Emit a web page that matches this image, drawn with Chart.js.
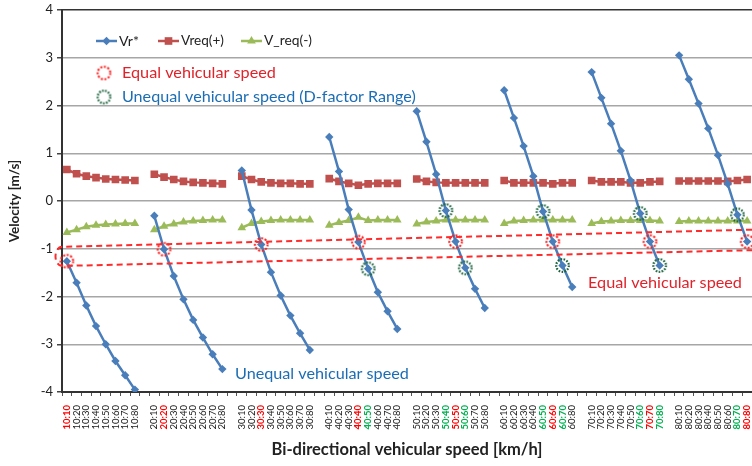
<!DOCTYPE html>
<html><head><meta charset="utf-8">
<script src="https://cdn.jsdelivr.net/npm/chart.js@4.4.1/dist/chart.umd.min.js"></script>
<style>html,body{margin:0;padding:0;background:#fff;}#wrap{width:752px;height:466px;position:relative;}</style>
</head><body><div id="wrap"><canvas id="c" width="752" height="466"></canvas></div>
<script>
// ---------- data ----------
const groupSpeeds = ['10','20','30','40','50','60','70','80'];
const pairSpeeds  = ['10','20','30','40','50','60','70','80'];

const vrStar = [
  [-1.26, -1.71, -2.19, -2.62, -3.00, -3.35, -3.65, -3.95],
  [-0.31, -1.01, -1.57, -2.06, -2.49, -2.86, -3.21, -3.52],
  [ 0.64, -0.19, -0.91, -1.49, -1.98, -2.40, -2.77, -3.12],
  [ 1.34,  0.62, -0.18, -0.86, -1.42, -1.91, -2.31, -2.68],
  [ 1.88,  1.24,  0.56, -0.20, -0.85, -1.40, -1.84, -2.24],
  [ 2.32,  1.74,  1.15,  0.52, -0.22, -0.85, -1.35, -1.80],
  [ 2.70,  2.16,  1.62,  1.05,  0.43, -0.26, -0.85, -1.35],
  [ 3.05,  2.55,  2.04,  1.52,  0.96,  0.36, -0.29, -0.85]
];
const vReqPlus = [
  [0.66, 0.57, 0.52, 0.49, 0.46, 0.45, 0.44, 0.43],
  [0.56, 0.50, 0.45, 0.41, 0.39, 0.38, 0.37, 0.36],
  [0.52, 0.45, 0.40, 0.38, 0.37, 0.37, 0.36, 0.36],
  [0.47, 0.41, 0.37, 0.33, 0.36, 0.37, 0.37, 0.37],
  [0.46, 0.41, 0.39, 0.38, 0.38, 0.38, 0.38, 0.38],
  [0.43, 0.38, 0.38, 0.38, 0.38, 0.36, 0.38, 0.38],
  [0.43, 0.40, 0.40, 0.40, 0.38, 0.38, 0.40, 0.41],
  [0.42, 0.42, 0.42, 0.42, 0.42, 0.41, 0.43, 0.45]
];
const vReqMinus = [
  [-0.66, -0.60, -0.54, -0.51, -0.49, -0.48, -0.47, -0.47],
  [-0.60, -0.53, -0.48, -0.44, -0.42, -0.41, -0.40, -0.40],
  [-0.56, -0.47, -0.43, -0.41, -0.40, -0.40, -0.40, -0.40],
  [-0.51, -0.45, -0.41, -0.34, -0.41, -0.40, -0.40, -0.40],
  [-0.48, -0.44, -0.42, -0.40, -0.40, -0.40, -0.40, -0.40],
  [-0.47, -0.42, -0.41, -0.40, -0.40, -0.40, -0.40, -0.40],
  [-0.47, -0.43, -0.42, -0.41, -0.41, -0.41, -0.41, -0.42],
  [-0.43, -0.42, -0.42, -0.42, -0.42, -0.42, -0.42, -0.42]
];
const equalPairs   = ['10:10','20:20','30:30','40:40','50:50','60:60','70:70','80:80'];
const dFactorPairs = ['40:50','50:40','50:60','60:50','60:70','70:60','70:80','80:70'];
// dashed "equal speed" band: [value at left edge, value at right edge]
const bandUpper = [-0.96, -0.60];
const bandLower = [-1.36, -1.03];
const yTicks = [-4, -3, -2, -1, 0, 1, 2, 3, 4];

// ---------- build ----------
const labels = [];
groupSpeeds.forEach((g, gi) => {
  pairSpeeds.forEach(s => labels.push(g + ':' + s));
  if (gi < groupSpeeds.length - 1) labels.push('');
});
function flat(rows) {
  const out = [];
  rows.forEach((r, i) => { out.push(...r); if (i < rows.length - 1) out.push(null); });
  return out;
}
const vrFlat = flat(vrStar);
const plusFlat = flat(vReqPlus);
const minusFlat = flat(vReqMinus);
const equalData = labels.map((l, i) => equalPairs.includes(l) ? vrFlat[i] : null);
const dfData = labels.map((l, i) => dFactorPairs.includes(l) ? vrFlat[i] : null);

const BLUE = '#4a7ebb', RED = '#c0504d', GREEN = '#9bbb59';
const TXT_RED = '#e0232b', TXT_BLUE = '#1b6db4';
const LBL_RED = '#ff0000', LBL_GREEN = '#00b050';
const FONT = 'Lato, "Open Sans", sans-serif';

function dottedCircle(color, r, lw, dash) {
  const c = document.createElement('canvas');
  const s = Math.ceil(2 * r + lw + 2);
  c.width = c.height = s;
  const g = c.getContext('2d');
  g.strokeStyle = color; g.lineWidth = lw; g.setLineDash(dash);
  g.beginPath(); g.arc(s / 2, s / 2, r, 0, Math.PI * 2); g.stroke();
  return c;
}
const redRing = dottedCircle('#ff1a1a', 6.3, 2, [2, 1.6]);
const greenRing = dottedCircle('#17603a', 6.3, 2.2, [1.6, 1.4]);

function fitText(ctx, text, x, y, width, color, weight, base) {
  ctx.font = weight + ' ' + base + 'px ' + FONT;
  const w = ctx.measureText(text).width;
  const size = base * width / w;
  ctx.font = weight + ' ' + size.toFixed(2) + 'px ' + FONT;
  ctx.fillStyle = color;
  ctx.textBaseline = 'middle';
  ctx.textAlign = 'left';
  ctx.fillText(text, x, y);
}

const overlay = {
  id: 'overlay',
  afterDraw(chart) {
    const {ctx, chartArea: ca} = chart;
    const xb = chart.scales.xb, ys = chart.scales.y;
    ctx.save();
    // dashed band
    const xl = xb.getPixelForValue(xb.min), xr = xb.getPixelForValue(xb.max);
    const yu0 = ys.getPixelForValue(bandUpper[0]), yu1 = ys.getPixelForValue(bandUpper[1]);
    const yl0 = ys.getPixelForValue(bandLower[0]), yl1 = ys.getPixelForValue(bandLower[1]);
    ctx.strokeStyle = '#ff2a2a'; ctx.lineWidth = 2; ctx.setLineDash([6, 4]);
    ctx.beginPath();
    ctx.moveTo(xr, yu1); ctx.lineTo(xl, yu0);
    ctx.ellipse(xl, (yu0 + yl0) / 2, 6.5, (yl0 - yu0) / 2, 0, -Math.PI / 2, Math.PI / 2, true);
    ctx.lineTo(xr, yl1);
    ctx.stroke();
    ctx.setLineDash([]);

    // legend
    const ly = ca.top + 31;
    const items = [
      {label: 'Vr*', color: BLUE, style: 'rectRot', r: 4.2, x0: ca.left + 34, tw: 20},
      {label: 'Vreq(+)', color: RED, style: 'rect', r: 5.4, x0: ca.left + 96, tw: 43},
      {label: 'V_req(-)', color: GREEN, style: 'triangle', r: 5, x0: ca.left + 179, tw: 48}
    ];
    items.forEach(it => {
      ctx.strokeStyle = it.color; ctx.lineWidth = 2.5;
      ctx.beginPath(); ctx.moveTo(it.x0, ly); ctx.lineTo(it.x0 + 21, ly); ctx.stroke();
      ctx.fillStyle = it.color;
      Chart.helpers.drawPoint(ctx, {pointStyle: it.style, radius: it.r, rotation: 0, borderWidth: 0}, it.x0 + 10.5, ly);
      fitText(ctx, it.label, it.x0 + 23, ly, it.tw, '#222', 'normal', 12.5);
    });

    // header annotations
    ctx.drawImage(redRing, ca.left + 42 - redRing.width / 2, ca.top + 63 - redRing.height / 2);
    fitText(ctx, 'Equal vehicular speed', ca.left + 60, ca.top + 63, 154, TXT_RED, 'normal', 16);
    ctx.drawImage(greenRing, ca.left + 42 - greenRing.width / 2, ca.top + 87 - greenRing.height / 2);
    fitText(ctx, 'Unequal vehicular speed (D-factor Range)', ca.left + 60, ca.top + 87, 294, TXT_BLUE, 'normal', 16);

    // in-plot annotations
    fitText(ctx, 'Unequal vehicular speed', xb.getPixelForValue(17.3), ys.getPixelForValue(-3.61), 174, TXT_BLUE, 'normal', 16);
    fitText(ctx, 'Equal vehicular speed', xb.getPixelForValue(53.63), ys.getPixelForValue(-1.72), 154, TXT_RED, 'normal', 16);
    ctx.restore();
  }
};

new Chart(document.getElementById('c'), {
  type: 'line',
  data: {
    labels: labels,
    datasets: [
      {label: 'equal', data: equalData, showLine: false, pointStyle: redRing, pointRadius: 6, order: 0},
      {label: 'dfactor', data: dfData, showLine: false, pointStyle: greenRing, pointRadius: 6, order: 0},
      {label: 'Vr*', data: vrFlat, borderColor: BLUE, backgroundColor: BLUE, borderWidth: 2.5,
       pointStyle: 'rectRot', pointRadius: 4.2, pointBorderWidth: 0, pointBackgroundColor: BLUE, order: 1},
      {label: 'Vreq(+)', data: plusFlat, borderColor: RED, backgroundColor: RED, borderWidth: 2.5,
       pointStyle: 'rect', pointRadius: 5.4, pointBorderWidth: 0, pointBackgroundColor: RED, order: 2},
      {label: 'V_req(-)', data: minusFlat, borderColor: GREEN, backgroundColor: GREEN, borderWidth: 2.5,
       pointStyle: 'triangle', pointRadius: 5, pointBorderWidth: 0, pointBackgroundColor: GREEN, order: 3}
    ]
  },
  options: {
    responsive: false,
    animation: false,
    events: [],
    spanGaps: false,
    layout: {autoPadding: false, padding: {left: 0, right: 0, top: 10, bottom: 0}},
    plugins: {legend: {display: false}, tooltip: {enabled: false}},
    scales: {
      x: {
        type: 'category',
        offset: true,
        grid: {display: true, drawOnChartArea: false, drawTicks: true, tickLength: 4, color: '#555', offset: true},
        border: {display: true, color: '#333', width: 2},
        ticks: {
          autoSkip: false, maxRotation: 90, minRotation: 90, padding: 9,
          color: (c) => equalPairs.includes(labels[c.index]) ? LBL_RED : (dFactorPairs.includes(labels[c.index]) ? LBL_GREEN : '#222'),
          font: (c) => ({family: FONT, size: 9.5, weight: (equalPairs.includes(labels[c.index]) || dFactorPairs.includes(labels[c.index])) ? 'bold' : 'normal'})
        },
        title: {display: true, text: 'Bi-directional vehicular speed [km/h]', color: '#222',
                font: {family: FONT, size: 16.5, weight: 'bold'}, padding: {top: 0, bottom: 6}},
        afterFit: (s) => { s.height = 74; s.paddingLeft = 0; s.paddingRight = 0; }
      },
      xb: {type: 'linear', display: false, min: -0.5, max: labels.length - 0.5},
      y: {
        type: 'linear', min: yTicks[0], max: yTicks[yTicks.length - 1],
        afterBuildTicks: (s) => { s.ticks = yTicks.map(v => ({value: v})); },
        grid: {color: (c) => c.tick && c.tick.value === 4 ? '#333' : '#a6a6a6', lineWidth: 1.5,
               tickColor: '#444', tickLength: 5},
        border: {display: true, color: '#333', width: 2},
        ticks: {color: '#222', padding: 4, font: {family: FONT, size: 13}},
        title: {display: true, text: 'Velocity [m/s]', color: '#222',
                font: {family: FONT, size: 13.5, weight: 'bold'}, padding: {top: 6.5, bottom: 0}},
        afterFit: (s) => { s.width = 62; s.paddingTop = 0; s.paddingBottom = 0; }
      }
    }
  },
  plugins: [overlay]
});
</script>
</body></html>
